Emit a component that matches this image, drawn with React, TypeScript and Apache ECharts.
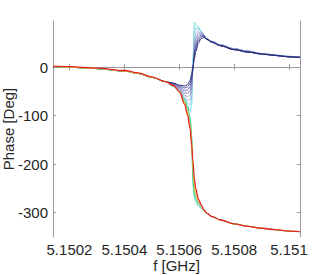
import React, { useEffect, useRef } from "react";
import * as echarts from "echarts";

// Frequency sample points (GHz)
const freqGHz = [
  5.15014, 5.1502, 5.1503, 5.1504, 5.15045, 5.1505, 5.15055, 5.15058, 5.1506,
  5.15062, 5.15063, 5.15064, 5.150645, 5.15065, 5.150655, 5.15066, 5.15067,
  5.15068, 5.15069, 5.1507, 5.15072, 5.15075, 5.1508, 5.15085, 5.1509, 5.15095,
  5.151, 5.15104,
];

// Shared tails (deg)
const leftTail = [1, 0, -3, -8, -13, -21, -30];
const redLeftTail = [2, 1, -2, -7, -12, -20, -30];
const upTailDark = [51, 44, 36, 31, 27, 24, 21, 20];
const upTailLight = [53, 46, 38, 33, 28, 25, 22, 21];
const downTail = [-308, -315, -323, -328, -332, -335, -338, -339];

// Resonance region (5.15058 .. 5.1507), curves that return upward
const upNavy = [-33, -37, -39, -36, -27, -15, 2, 18, 32, 50, 59, 61, 57];
const upIndigo = [-34, -39, -43, -41, -33, -20, 0, 22, 38, 55, 63, 63, 58];
const upViolet = [-35, -41, -48, -47, -40, -25, -2, 26, 44, 60, 66, 64, 58];
const upPurple = [-36, -43, -53, -54, -48, -32, -4, 32, 52, 66, 68, 65, 58];
const upLavender = [-37, -45, -58, -61, -57, -40, -5, 40, 60, 71, 70, 66, 58];
const upSteel = [-38, -47, -62, -68, -67, -50, -5, 52, 70, 76, 72, 66, 58];
const upSky = [-39, -49, -65, -74, -78, -62, 0, 68, 80, 80, 73, 66, 58];
const upCyan = [-40, -50, -66, -79, -90, -80, 20, 92, 88, 82, 74, 66, 58];

// Resonance region, curves that wrap downward
const downCyan = [-40, -51, -66, -80, -102, -140, -245, -268, -277, -286, -291, -296, -301];
const downTeal = [-40, -51, -68, -83, -107, -145, -234, -263, -274, -284, -290, -296, -301];
const downGreen = [-39, -51, -70, -87, -112, -148, -220, -256, -269, -280, -288, -295, -301];
const downLime = [-39, -51, -72, -90, -118, -152, -208, -248, -263, -277, -286, -294, -301];
const downYellow = [-38, -50, -74, -94, -124, -156, -200, -239, -257, -274, -285, -294, -301];
const downRed = [-38, -50, -77, -98, -128, -160, -193, -230, -250, -272, -284, -294, -301];

const xTicks = [5.1502, 5.1504, 5.1506, 5.1508, 5.151];
const yTicks = [-300, -200, -100, 0];

const curves = [
  { mid: upCyan, left: leftTail, right: upTailLight, color: "#52d2e2", w: 0.8 },
  { mid: upSky, left: leftTail, right: upTailLight, color: "#70c2dc", w: 0.8 },
  { mid: upSteel, left: leftTail, right: upTailLight, color: "#93a8d2", w: 0.8 },
  { mid: upLavender, left: leftTail, right: upTailLight, color: "#8c88c4", w: 0.8 },
  { mid: upPurple, left: leftTail, right: upTailDark, color: "#6c66b2", w: 0.8 },
  { mid: upViolet, left: leftTail, right: upTailDark, color: "#4d4aa2", w: 0.8 },
  { mid: upIndigo, left: leftTail, right: upTailDark, color: "#35378c", w: 0.8 },
  { mid: upNavy, left: leftTail, right: upTailDark, color: "#222a70", w: 1 },
  { mid: downCyan, left: leftTail, right: downTail, color: "#48d4d4", w: 0.8 },
  { mid: downTeal, left: leftTail, right: downTail, color: "#4ccca6", w: 0.8 },
  { mid: downGreen, left: leftTail, right: downTail, color: "#5cc874", w: 0.8 },
  { mid: downLime, left: leftTail, right: downTail, color: "#a2d03c", w: 0.8 },
  { mid: downYellow, left: leftTail, right: downTail, color: "#f0d41e", w: 0.9 },
  { mid: downRed, left: redLeftTail, right: downTail, color: "#e8222a", w: 1.3 },
];

const fmtX = (v: number) => String(parseFloat(v.toFixed(4)));

export default function App() {
  const ref = useRef<HTMLDivElement>(null);
  useEffect(() => {
    if (!ref.current) return;
    const chart = echarts.init(ref.current, undefined, { renderer: "svg" });
    const axisColor = "#9a9a9a";
    const labelColor = "#262626";
    const font = "Liberation Sans, Arial, sans-serif";
    const xMin = 5.15014;
    const xMax = 5.15104;
    const yMin = -350;
    const yMax = 95;
    const series = curves.map((c) => {
      const ys = [...c.left, ...c.mid, ...c.right];
      return {
        type: "line",
        data: freqGHz.map((f, i) => [f, ys[i]]),
        showSymbol: false,
        smooth: 0.35,
        smoothMonotone: "x",
        lineStyle: { color: c.color, width: c.w },
        xAxisIndex: 0,
        yAxisIndex: 0,
        silent: true,
      };
    });
    chart.setOption({
      animation: false,
      backgroundColor: "#ffffff",
      grid: {
        left: 53,
        right: 32,
        top: 21,
        bottom: 38,
        containLabel: false,
        outerBoundsMode: "none",
      },
      xAxis: [
        {
          type: "value",
          min: xMin,
          max: xMax,
          position: "bottom",
          name: "f [GHz]",
          nameLocation: "middle",
          nameGap: 21,
          nameMoveOverlap: false,
          nameTextStyle: { color: labelColor, fontSize: 15, fontFamily: font },
          axisLine: { show: true, lineStyle: { color: axisColor, width: 1 } },
          axisTick: {
            show: true,
            inside: true,
            length: 3,
            customValues: xTicks,
            lineStyle: { color: axisColor },
          },
          axisLabel: {
            show: true,
            customValues: xTicks,
            formatter: fmtX,
            color: labelColor,
            fontSize: 15,
            fontFamily: font,
            margin: 5,
          },
          splitLine: { show: false },
        },
        {
          type: "value",
          min: xMin,
          max: xMax,
          position: "top",
          axisLine: { show: true, lineStyle: { color: axisColor, width: 1 } },
          axisTick: {
            show: true,
            inside: true,
            length: 3,
            customValues: xTicks,
            lineStyle: { color: axisColor },
          },
          axisLabel: { show: false },
          splitLine: { show: false },
        },
      ],
      yAxis: [
        {
          type: "value",
          min: yMin,
          max: yMax,
          position: "left",
          name: "Phase [Deg]",
          nameLocation: "middle",
          nameGap: 37,
          nameRotate: 90,
          nameMoveOverlap: false,
          nameTextStyle: { color: labelColor, fontSize: 15, fontFamily: font },
          axisLine: { show: true, lineStyle: { color: axisColor, width: 1 } },
          axisTick: {
            show: true,
            inside: true,
            length: 3,
            customValues: yTicks,
            lineStyle: { color: axisColor },
          },
          axisLabel: {
            show: true,
            customValues: yTicks,
            color: labelColor,
            fontSize: 15,
            fontFamily: font,
            margin: 5,
          },
          splitLine: { show: false },
        },
        {
          type: "value",
          min: yMin,
          max: yMax,
          position: "right",
          axisLine: { show: true, lineStyle: { color: axisColor, width: 1 } },
          axisTick: {
            show: true,
            inside: true,
            length: 3,
            customValues: yTicks,
            lineStyle: { color: axisColor },
          },
          axisLabel: { show: false },
          splitLine: { show: false },
        },
      ],
      series,
    });
    return () => chart.dispose();
  }, []);
  return (
    <div
      ref={ref}
      style={{ position: "fixed", left: 0, top: 0, width: 332, height: 275 }}
    />
  );
}
